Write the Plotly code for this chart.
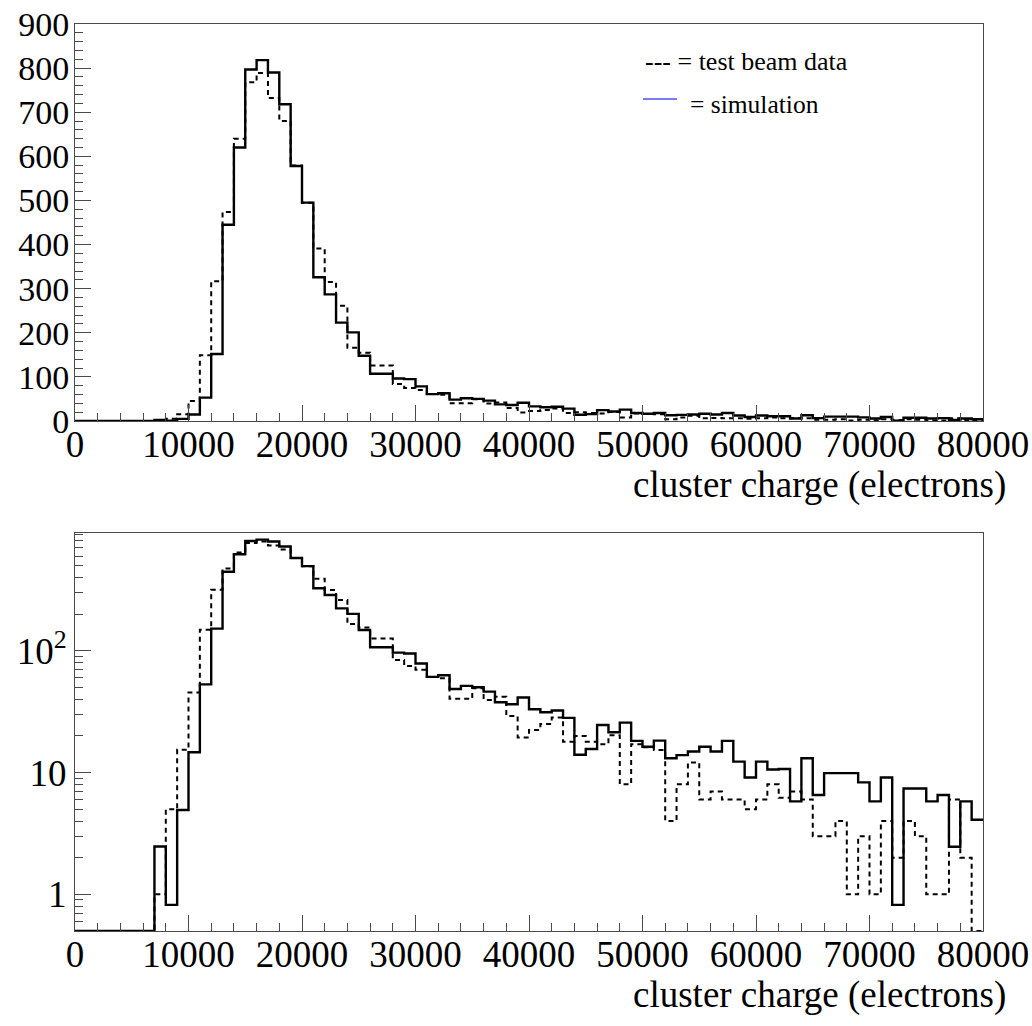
import numpy as np
import plotly.graph_objects as go

# ---- data (bin width 1000 electrons, 80 bins from 0 to 80000) ----
bin_width = 1000
n_bins = 80

simulation = [
    0, 0, 0, 0, 0, 0, 0, 2.47, 0.82, 4.93,
    14.7, 53, 152, 445, 620, 797, 818, 790, 718, 578,
    495, 326, 287, 223, 201, 148, 107, 107, 96.5, 95,
    78.5, 61, 63, 48.5, 51.5, 50.2, 46.2, 37.8, 36.4, 41.3,
    33.1, 31.3, 32.3, 28.1, 14.0, 15.6, 24.6, 21.4, 25.7, 18.2,
    16.3, 18.3, 13.1, 13.9, 14.9, 16.3, 14.9, 18.2, 12.3, 9.1,
    12.3, 10.6, 10.7, 5.8, 13.1, 6.55, 9.9, 9.9, 9.9, 8.3,
    5.8, 9.1, 0.82, 7.4, 7.4, 5.8, 6.55, 2.46, 5.8, 4.1,
]

test_beam = [
    0, 0, 0, 0, 0, 0, 0, 1, 5, 15.4,
    45.5, 149, 317, 474, 640, 768, 789, 732, 680, 579,
    495, 391, 315, 261, 166, 155, 126, 126, 84, 75,
    70, 61, 59.6, 40.3, 40.3, 49.3, 39.5, 42, 29.2, 19.4,
    22.4, 25.1, 28.3, 17.9, 20.0, 17.9, 17.1, 20.2, 8.0, 17.1,
    16.1, 15.3, 4.0, 8.0, 12.1, 6.0, 7.0, 6.0, 6.0, 5.0,
    6.0, 8.0, 6.2, 7.0, 6.0, 3.0, 3.0, 4.0, 1.0, 3.0,
    1.0, 4.0, 2.0, 4.0, 3.0, 1.0, 1.0, 6.0, 2.0, 0,
]

x_tick_values = [0, 10000, 20000, 30000, 40000, 50000, 60000, 70000, 80000]
x_tick_labels = ["0", "10000", "20000", "30000", "40000", "50000", "60000", "70000", "80000"]
log_tick_values = [1, 10, 100]
log_tick_labels = ["1", "10", "10<sup>2</sup>"]
x_title = "cluster charge (electrons)"

# ---- build step coordinates ----
edges = np.arange(n_bins + 1) * bin_width
step_x = edges
sim_y = np.append(simulation, simulation[-1])
data_y = np.append(test_beam, test_beam[-1])
log_floor = 0.5
sim_y_log = np.where(sim_y > 0, sim_y, log_floor)
data_y_log = np.where(data_y > 0, data_y, log_floor)

W, H = 1032, 1026
L, R = 75, 983
top_t, top_b = 24, 421
bot_t, bot_b = 533, 931

FONT = "Liberation Serif"
AX_COL = "#4a4a4a"

fig = go.Figure()

line_solid = dict(color="black", width=2.4, shape="hv")
line_dash = dict(color="black", width=2, shape="hv", dash="5px,4px")

fig.add_trace(go.Scatter(x=step_x, y=data_y, mode="lines", line=line_dash,
                         xaxis="x", yaxis="y", showlegend=False))
fig.add_trace(go.Scatter(x=step_x, y=sim_y, mode="lines", line=line_solid,
                         xaxis="x", yaxis="y", showlegend=False))
fig.add_trace(go.Scatter(x=step_x, y=data_y_log, mode="lines", line=line_dash,
                         xaxis="x2", yaxis="y2", showlegend=False))
fig.add_trace(go.Scatter(x=step_x, y=sim_y_log, mode="lines", line=line_solid,
                         xaxis="x2", yaxis="y2", showlegend=False))

def ydom(t, b):
    return [1 - b / H, 1 - t / H]

def px_x(x):
    return (x - L) / (R - L)

xaxis_common = dict(
    range=[0, 80000], tickmode="array", tickvals=x_tick_values, ticktext=x_tick_labels,
    ticks="inside", ticklen=16, tickwidth=1, tickcolor=AX_COL,
    minor=dict(ticks="inside", ticklen=8, dtick=2000, tick0=0, tickcolor=AX_COL, tickwidth=1),
    showline=True, linecolor=AX_COL, linewidth=1, mirror=True, showgrid=False, zeroline=False,
    tickfont=dict(family=FONT, size=37, color="black"), automargin=False,
    ticklabelstandoff=-9,
)

minor_log = []
for dec in [0.1, 1, 10, 100]:
    for m in range(2, 10):
        v = m * dec
        if 0.5 <= v <= 900:
            minor_log.append(v)

fig.update_layout(
    width=W, height=H,
    margin=dict(l=L, r=W - R, t=0, b=0, autoexpand=False),
    paper_bgcolor="white", plot_bgcolor="white",
    xaxis=dict(domain=[0, 1], anchor="y", **xaxis_common),
    yaxis=dict(domain=ydom(top_t, top_b), anchor="x", range=[0, 900], dtick=100, tick0=0,
               ticks="inside", ticklen=16, tickcolor=AX_COL,
               minor=dict(ticks="inside", ticklen=8, dtick=20, tick0=0, tickcolor=AX_COL),
               showline=True, linecolor=AX_COL, linewidth=1, mirror=True,
               showgrid=False, zeroline=False, automargin=False,
               tickfont=dict(family=FONT, size=34, color="black"), ticklabelstandoff=-2),
    xaxis2=dict(domain=[0, 1], anchor="y2", **xaxis_common),
    yaxis2=dict(domain=ydom(bot_t, bot_b), anchor="x2", type="log",
                range=[np.log10(0.5), 2.967],
                tickmode="array", tickvals=log_tick_values, ticktext=log_tick_labels,
                ticks="inside", ticklen=16, tickcolor=AX_COL,
                minor=dict(ticks="inside", ticklen=8, tickmode="array", tickvals=minor_log,
                           tickcolor=AX_COL),
                showline=True, linecolor=AX_COL, linewidth=1, mirror=True,
                showgrid=False, zeroline=False, automargin=False,
                tickfont=dict(family=FONT, size=37, color="black")),
)

# axis titles (right-aligned, ROOT style)
for yc in [485, 995]:
    fig.add_annotation(x=px_x(1008), y=1 - yc / H, xref="paper", yref="paper",
                       text=x_title, showarrow=False, xanchor="right", yanchor="middle",
                       font=dict(family=FONT, size=37, color="black"))

# Legend texts
fig.add_annotation(x=px_x(643), y=1 - 62 / H, xref="paper", yref="paper",
                   text="--- = test beam data", showarrow=False, xanchor="left", yanchor="middle",
                   font=dict(family=FONT, size=26, color="black"))
fig.add_annotation(x=px_x(688), y=1 - 104 / H, xref="paper", yref="paper",
                   text="= simulation", showarrow=False, xanchor="left", yanchor="middle",
                   font=dict(family=FONT, size=25.5, color="black"))
fig.add_shape(type="line", xref="paper", yref="paper",
              x0=px_x(643), x1=px_x(677),
              y0=1 - 99 / H, y1=1 - 99 / H,
              line=dict(color="#7b7bf5", width=2))

fig.write_html("out.html")
